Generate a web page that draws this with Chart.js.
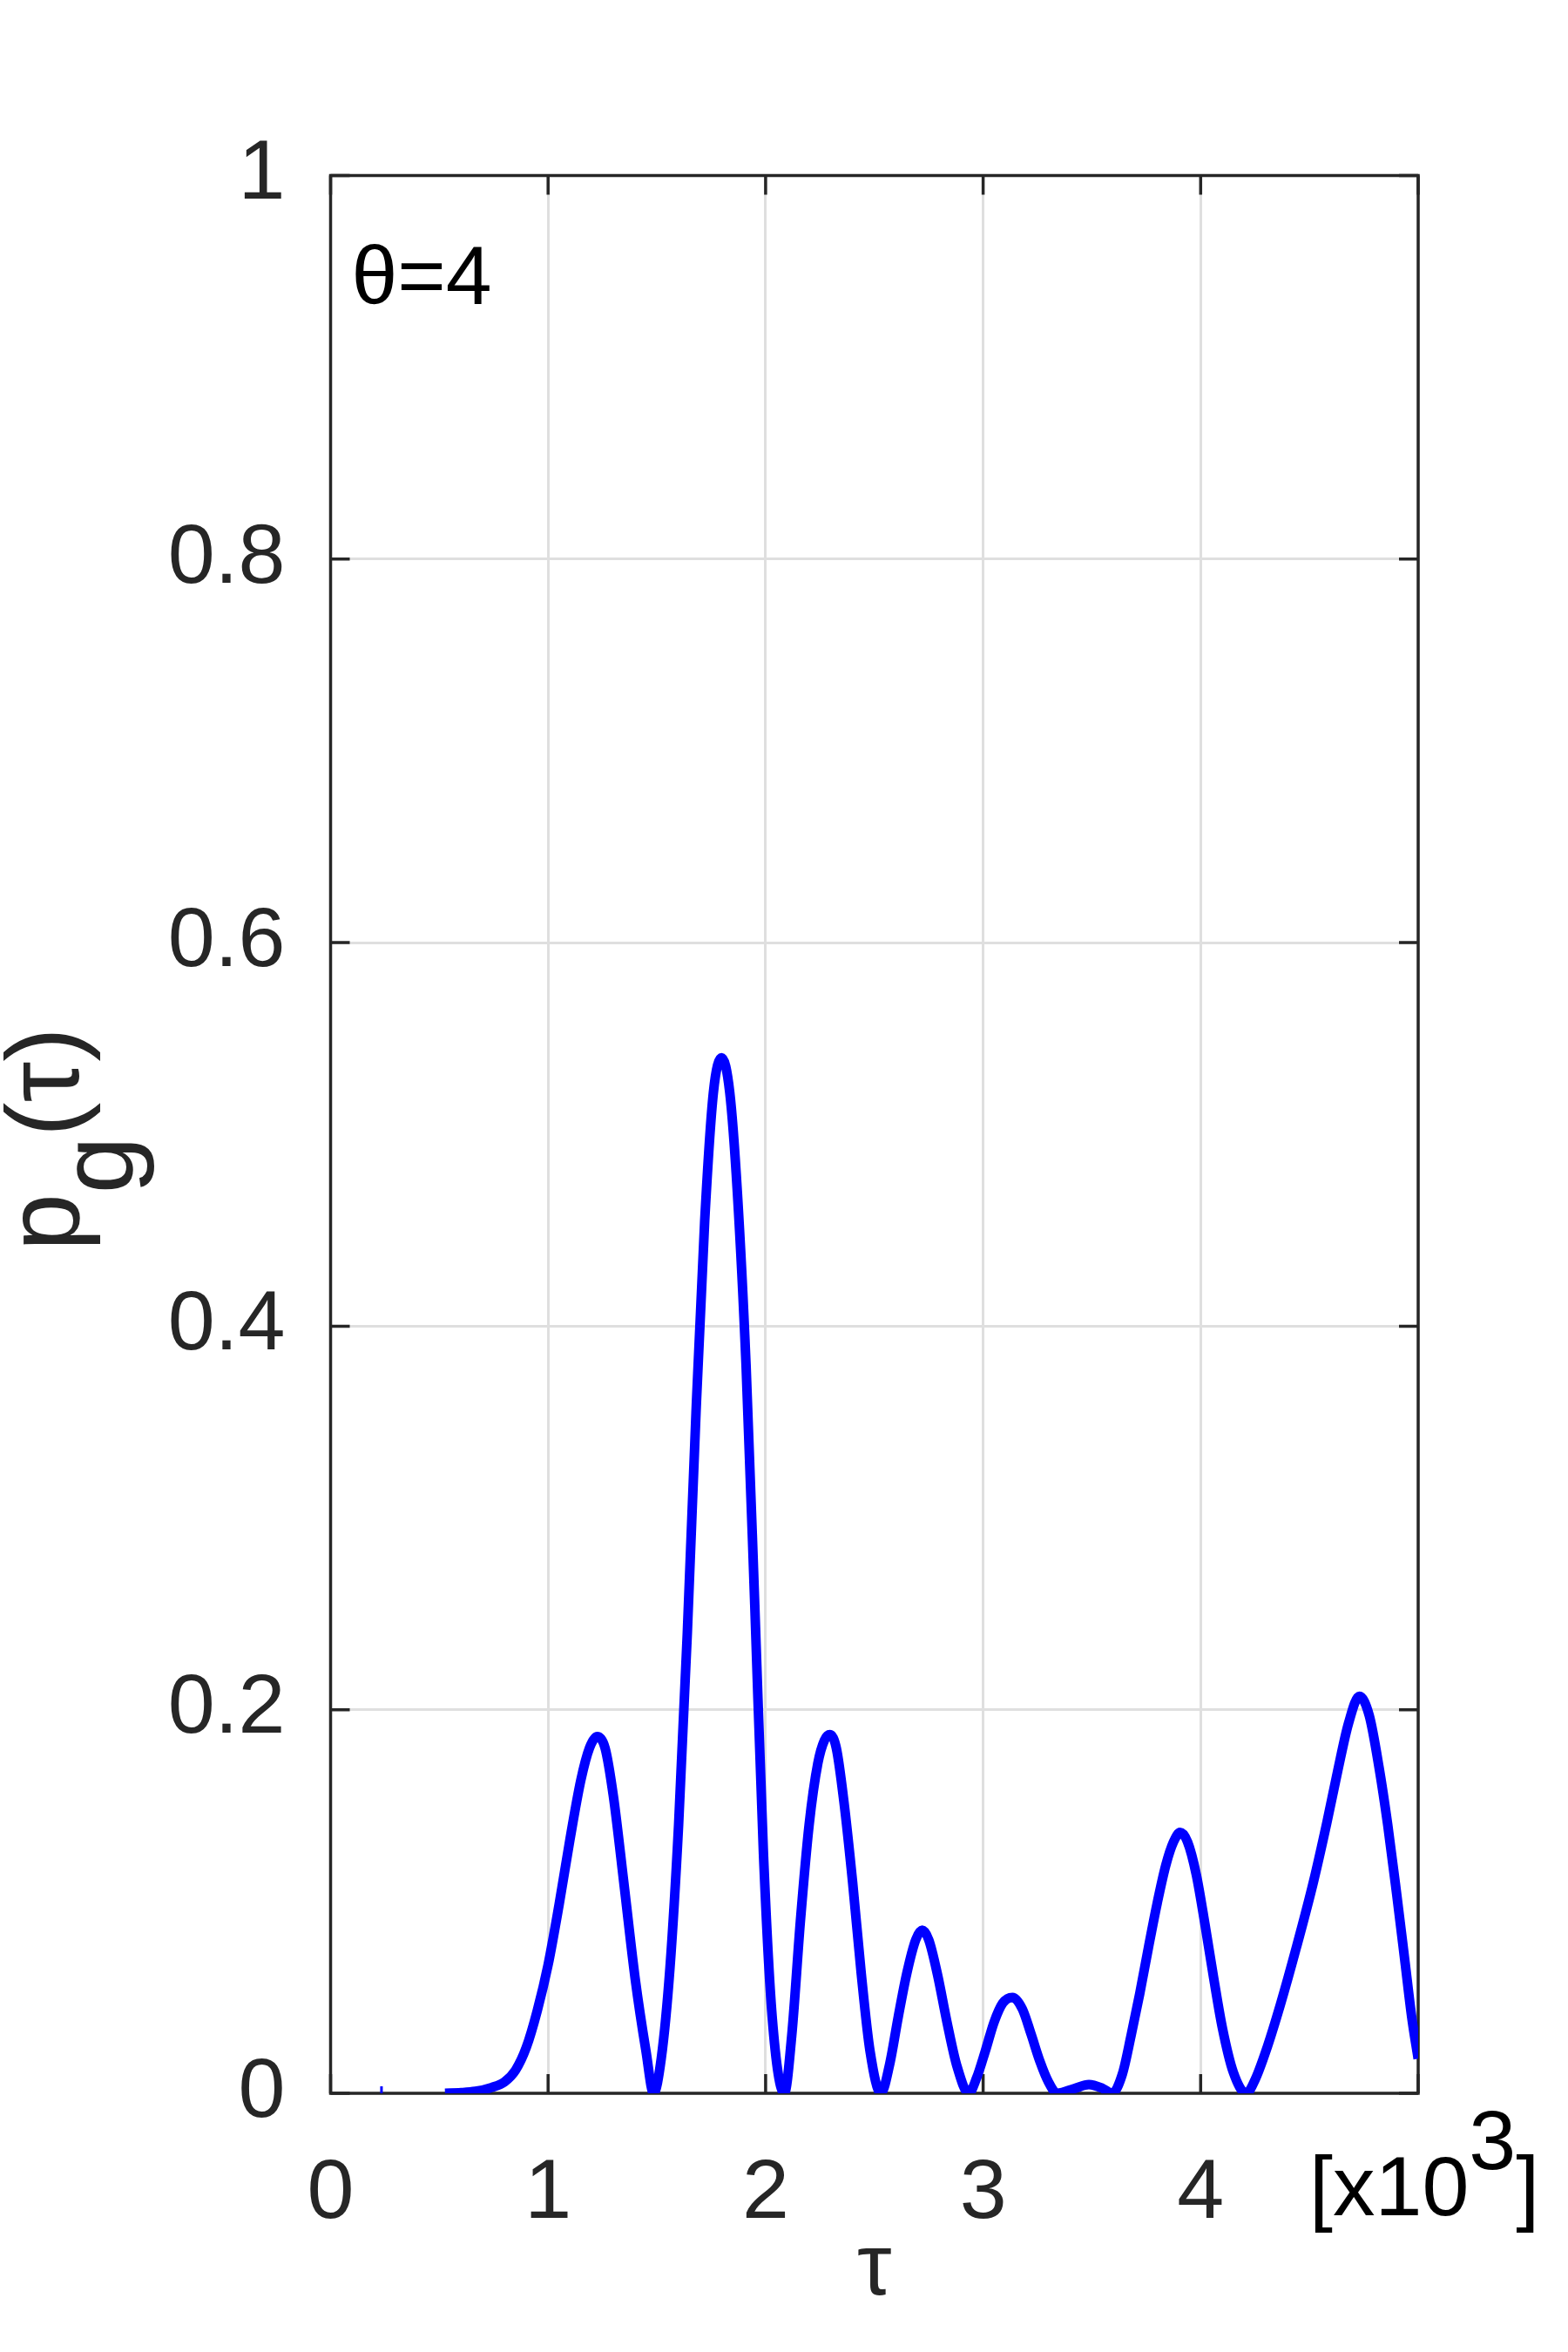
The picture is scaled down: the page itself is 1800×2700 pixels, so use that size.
<!DOCTYPE html>
<html>
<head>
<meta charset="utf-8">
<script src="https://cdn.jsdelivr.net/npm/chart.js@4.4.1/dist/chart.umd.min.js"></script>
<style>
html,body{margin:0;padding:0;background:#fff;}
canvas{display:block;}
</style>
</head>
<body>
<canvas id="c" width="1800" height="2700"></canvas>
<script>
// ---- data ----
const tauValues = [526,600,666,740,800,850,900,950,1000,1050,1100,1150,1190,1226,1262,1300,1350,1400,1450,1485,
  1520,1560,1600,1640,1680,1720,1760,1798,1835,1870,1910,1950,1990,2030,2086,
  2120,2160,2200,2240,2270,2296,2325,2360,2400,2440,2480,2530,
  2570,2610,2650,2690,2720,2750,2790,2834,2880,2934,
  2970,3010,3050,3090,3135,3180,3220,3260,3300,3340,
  3420,3486,3550,3593,
  3640,3680,3720,3760,3800,3840,3875,3906,3940,3980,4020,4060,4100,4150,4210,
  4250,4300,4366,4440,4518,4580,4630,4680,4730,4775,4820,4860,4900,4940,4970,5000];
const pValues = [0,0.0003,0.001,0.003,0.006,0.012,0.024,0.043,0.067,0.098,0.132,0.163,0.180,0.186,0.180,0.155,0.108,0.060,0.022,0,
  0.018,0.065,0.140,0.240,0.355,0.455,0.522,0.540,0.522,0.470,0.380,0.255,0.125,0.040,0,
  0.030,0.090,0.140,0.172,0.184,0.187,0.180,0.152,0.110,0.062,0.022,0,
  0.015,0.040,0.063,0.080,0.085,0.080,0.062,0.037,0.014,0,
  0.008,0.022,0.037,0.047,0.050,0.044,0.031,0.017,0.006,0,
  0.0025,0.0045,0.0025,0,
  0.010,0.030,0.052,0.076,0.099,0.119,0.131,0.136,0.131,0.114,0.088,0.060,0.034,0.011,0,
  0.007,0.022,0.046,0.076,0.110,0.141,0.168,0.193,0.207,0.197,0.170,0.140,0.105,0.068,0.040,0.018];
const strayTau = [234];
const strayP = [0];
const xTicks = [0,1000,2000,3000,4000,5000];
const xTickLabels = ['0','1','2','3','4',''];
const yTicks = [0,0.2,0.4,0.6,0.8,1];
const yTickLabels = ['0','0.2','0.4','0.6','0.8','1'];
const annotationText = 'θ=4';
const xTitle = 'τ';
const yTitleParts = ['p','g','(τ)'];
const xScaleParts = ['[x10','3',']'];

const FONT = '"Liberation Sans", Arial, Helvetica, sans-serif';
const AX = '#262626';

const mainData = tauValues.map((t,i)=>({x:t,y:pValues[i]}));
const strayData = strayTau.map((t,i)=>({x:t,y:strayP[i]}));

const axesPlugin = {
  id:'matlabAxes',
  beforeDatasetsDraw(chart){
    const {ctx, chartArea:a, scales:{x,y}} = chart;
    ctx.save();
    ctx.strokeStyle = AX;
    ctx.lineWidth = 3.5;
    const tl = 22;
    ctx.beginPath();
    xTicks.forEach(v=>{
      const px = x.getPixelForValue(v);
      ctx.moveTo(px,a.bottom); ctx.lineTo(px,a.bottom-tl);
      ctx.moveTo(px,a.top); ctx.lineTo(px,a.top+tl);
    });
    yTicks.forEach(v=>{
      const py = y.getPixelForValue(v);
      ctx.moveTo(a.left,py); ctx.lineTo(a.left+tl,py);
      ctx.moveTo(a.right,py); ctx.lineTo(a.right-tl,py);
    });
    ctx.stroke();
    ctx.strokeRect(a.left,a.top,a.right-a.left,a.bottom-a.top);
    ctx.restore();
  },
  afterDraw(chart){
    const {ctx, chartArea:a} = chart;
    ctx.save();
    // annotation
    ctx.fillStyle = '#000';
    ctx.font = '95px ' + FONT;
    ctx.textAlign = 'left';
    ctx.textBaseline = 'alphabetic';
    ctx.fillText(annotationText, a.left + 24, 349);
    // x title
    ctx.fillStyle = AX;
    ctx.font = '100px ' + FONT;
    ctx.textAlign = 'center';
    ctx.fillText(xTitle, (a.left+a.right)/2, 2634);
    // x scale factor
    ctx.fillStyle = '#000';
    ctx.font = '97px ' + FONT;
    ctx.textAlign = 'left';
    let xx = 1503;
    ctx.fillText(xScaleParts[0], xx, 2543);
    xx += ctx.measureText(xScaleParts[0]).width;
    ctx.fillText(xScaleParts[1], xx, 2490);
    xx += ctx.measureText(xScaleParts[1]).width;
    ctx.fillText(xScaleParts[2], xx, 2543);
    // y title (rotated, with subscript)
    ctx.fillStyle = AX;
    ctx.font = '118px ' + FONT;
    ctx.translate(90, 1436);
    ctx.rotate(-Math.PI/2);
    let tx = 0;
    ctx.fillText(yTitleParts[0], tx, 0);
    tx += ctx.measureText(yTitleParts[0]).width;
    ctx.fillText(yTitleParts[1], tx, 62);
    tx += ctx.measureText(yTitleParts[1]).width;
    ctx.fillText(yTitleParts[2], tx, 0);
    ctx.restore();
  }
};

new Chart(document.getElementById('c'), {
  type:'line',
  data:{datasets:[
    {label:'p_g', data:mainData, borderColor:'#0000ff', backgroundColor:'#0000ff', borderWidth:11,
     pointRadius:0, cubicInterpolationMode:'monotone', borderJoinStyle:'round', borderCapStyle:'butt', fill:false},
    {label:'stray', data:strayData, showLine:false, pointStyle:'line', rotation:90, pointRadius:8,
     borderColor:'#0000ff', borderWidth:3}
  ]},
  options:{
    responsive:false, animation:false, devicePixelRatio:1,
    layout:{padding:{top:201.5,right:172,left:0,bottom:0}},
    plugins:{legend:{display:false}, tooltip:{enabled:false}},
    scales:{
      x:{type:'linear', min:0, max:5000,
        afterBuildTicks(s){ s.ticks = xTicks.map(v=>({value:v})); },
        afterFit(s){ s.height = 297; },
        grid:{color:'#dfdfdf', lineWidth:3, drawTicks:false},
        border:{display:false},
        ticks:{autoSkip:false, maxRotation:0, padding:58, color:AX, font:{family:FONT, size:97},
          callback:(v)=>{const i=xTicks.indexOf(v); return i>=0?xTickLabels[i]:'';}}
      },
      y:{type:'linear', min:0, max:1,
        afterBuildTicks(s){ s.ticks = yTicks.map(v=>({value:v})); },
        afterFit(s){ s.width = 379.5; },
        grid:{color:'#dfdfdf', lineWidth:3, drawTicks:false},
        border:{display:false},
        ticks:{autoSkip:false, padding:52, color:AX, font:{family:FONT, size:97},
          callback:(v)=>{const i=yTicks.indexOf(v); return i>=0?yTickLabels[i]:'';}}
      }
    }
  },
  plugins:[axesPlugin]
});
</script>
</body>
</html>
